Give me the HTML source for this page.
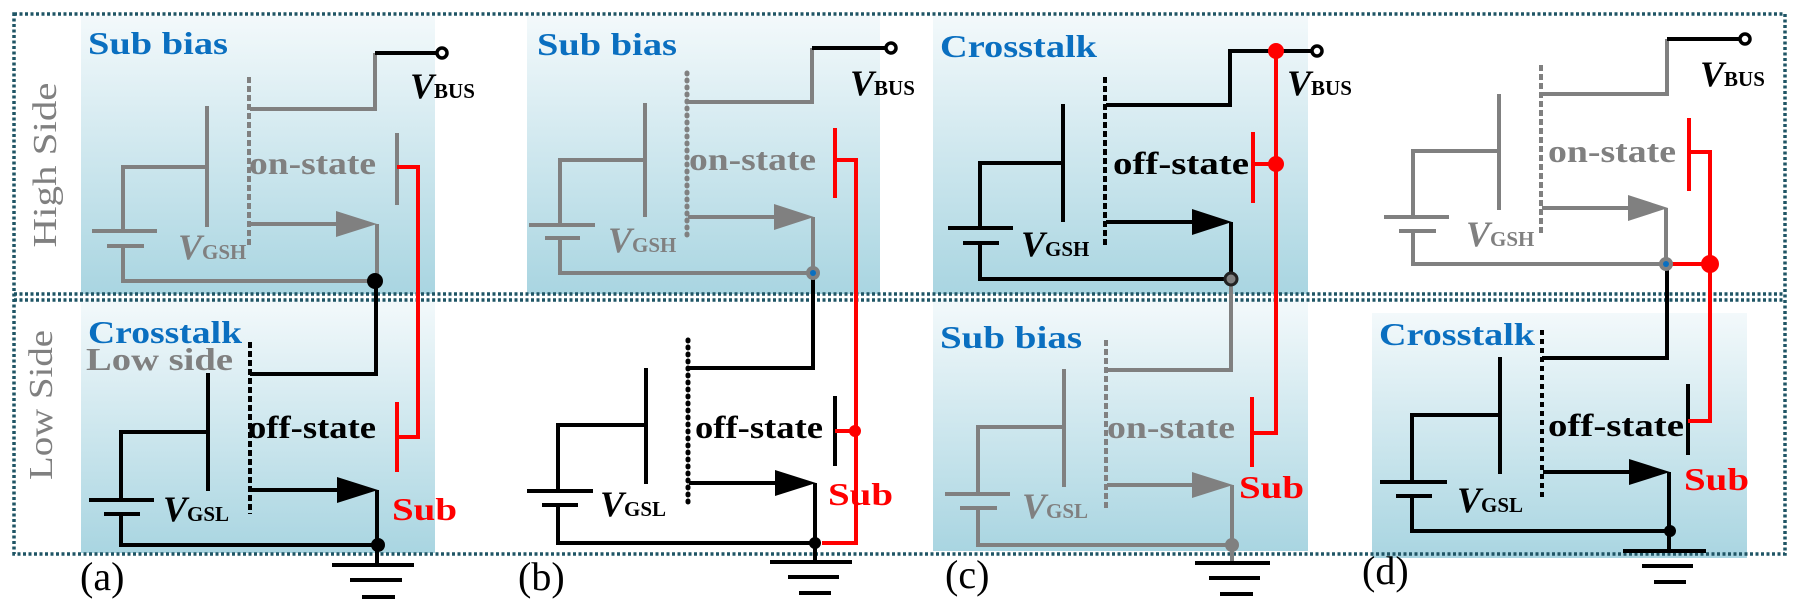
<!DOCTYPE html>
<html><head><meta charset="utf-8"><style>
html,body{margin:0;padding:0;background:#fff;}
svg{display:block;}
text{font-family:"Liberation Serif",serif;font-weight:bold;}
</style></head><body>
<svg width="1800" height="614" viewBox="0 0 1800 614" xmlns="http://www.w3.org/2000/svg">
<defs>
<linearGradient id="g" x1="0" y1="0" x2="0" y2="1">
<stop offset="0" stop-color="#f3f9fb"/><stop offset="1" stop-color="#a9d5e1"/>
</linearGradient>
</defs>
<rect x="81" y="16" width="354" height="278" fill="url(#g)"/>
<rect x="81" y="300" width="354" height="253" fill="url(#g)"/>
<rect x="527" y="16" width="353" height="278" fill="url(#g)"/>
<rect x="933" y="16" width="375" height="278" fill="url(#g)"/>
<rect x="933" y="300" width="375" height="251" fill="url(#g)"/>
<rect x="1372" y="313" width="375" height="245" fill="url(#g)"/>

<g fill="none" stroke="#1f5565" stroke-width="3.5" stroke-dasharray="3,2.5">
<rect x="14" y="14" width="1771" height="540"/>
<line x1="14" y1="294" x2="1785" y2="294"/>
<line x1="14" y1="300" x2="1785" y2="300"/>
</g>
<text transform="translate(56,165) rotate(-90)" text-anchor="middle" font-size="34" fill="#808080" style="font-weight:normal" textLength="165" lengthAdjust="spacingAndGlyphs">High Side</text>
<text transform="translate(52,405) rotate(-90)" text-anchor="middle" font-size="34" fill="#808080" style="font-weight:normal" textLength="150" lengthAdjust="spacingAndGlyphs">Low Side</text>

<!-- Panel A -->
<g fill="none" stroke-width="4">
<g stroke="#808080">
<path d="M250,109 H375 V53"/>
<line x1="249" y1="77" x2="249" y2="248" stroke-dasharray="6,3"/>
<line x1="207" y1="106" x2="207" y2="227"/>
<path d="M207,167 H123 V231"/>
<line x1="92" y1="231" x2="157" y2="231"/><line x1="107" y1="246" x2="144" y2="246"/>
<path d="M123,246 V281 H376"/>
<line x1="250" y1="224" x2="336" y2="224"/>
<path d="M377,224 V281"/>
<line x1="397" y1="133" x2="397" y2="205"/>
</g>
<polygon points="336,211 336,237 377,224" fill="#808080" stroke="none"/>
<path d="M375,53 H437" stroke="#000"/>
<circle cx="442" cy="53" r="5" fill="#fff" stroke="#000" stroke-width="3.5"/>
<path d="M397,167 H418 V437 H397" stroke="#f00"/>
<line x1="397" y1="402" x2="397" y2="472" stroke="#f00"/>
<g stroke="#000">
<path d="M376,281 V374 H250"/>
<line x1="250" y1="342" x2="250" y2="514" stroke-dasharray="6,3"/>
<line x1="208" y1="373" x2="208" y2="491"/>
<path d="M208,432 H121 V500"/>
<line x1="89" y1="500" x2="154" y2="500"/><line x1="104" y1="514" x2="140" y2="514"/>
<path d="M121,514 V545 H378"/>
<line x1="251" y1="490" x2="337" y2="490"/>
<path d="M377,490 V565"/>
<line x1="332" y1="565" x2="414" y2="565"/><line x1="350" y1="580" x2="402" y2="580"/><line x1="362" y1="597" x2="395" y2="597"/>
</g>
<polygon points="337,477 337,503 378,490" fill="#000" stroke="none"/>
</g>
<circle cx="375" cy="281" r="8" fill="#000"/>
<circle cx="378" cy="545" r="7" fill="#000"/>
<text x="88" y="54" font-size="32" fill="#0a6fc0" textLength="140" lengthAdjust="spacingAndGlyphs">Sub bias</text>
<text x="249" y="174" font-size="32" fill="#808080" textLength="127" lengthAdjust="spacingAndGlyphs">on-state</text>
<text x="178" y="259" fill="#808080"><tspan font-size="36" font-style="italic">V</tspan><tspan font-size="21">GSH</tspan></text>
<text x="410" y="98" fill="#000"><tspan font-size="36" font-style="italic">V</tspan><tspan font-size="21">BUS</tspan></text>
<text x="88" y="343" font-size="32" fill="#0a6fc0" textLength="154" lengthAdjust="spacingAndGlyphs">Crosstalk</text>
<text x="86" y="370" font-size="32" fill="#808080" textLength="147" lengthAdjust="spacingAndGlyphs">Low side</text>
<text x="248" y="438" font-size="32" fill="#000" textLength="128" lengthAdjust="spacingAndGlyphs">off-state</text>
<text x="163" y="521" fill="#000"><tspan font-size="36" font-style="italic">V</tspan><tspan font-size="21">GSL</tspan></text>
<text x="392" y="520" font-size="32" fill="#f00" textLength="65" lengthAdjust="spacingAndGlyphs">Sub</text>
<text x="80" y="590" font-size="40" fill="#000" style="font-weight:normal">(a)</text>

<!-- Panel B -->
<g fill="none" stroke-width="4">
<g stroke="#808080">
<path d="M688,102 H812 V48"/>
<line x1="687" y1="73" x2="687" y2="240" stroke-dasharray="1,6" stroke-linecap="round" stroke-width="5"/>
<line x1="645" y1="103" x2="645" y2="217"/>
<path d="M645,160 H560 V225"/>
<line x1="529" y1="225" x2="595" y2="225"/><line x1="545" y1="238" x2="580" y2="238"/>
<path d="M560,238 V273 H813"/>
<line x1="688" y1="217" x2="774" y2="217"/>
<path d="M813,217 V273"/>
</g>
<polygon points="774,204 774,230 814,217" fill="#808080" stroke="none"/>
<path d="M812,48 H886" stroke="#000"/>
<circle cx="891" cy="48" r="5" fill="#fff" stroke="#000" stroke-width="3.5"/>
<line x1="835" y1="128" x2="835" y2="198" stroke="#f00"/>
<g stroke="#000">
<path d="M813,273 V368 H688"/>
<line x1="688" y1="340" x2="688" y2="508" stroke-dasharray="1,6" stroke-linecap="round" stroke-width="5"/>
<line x1="646" y1="368" x2="646" y2="484"/>
<path d="M646,425 H558 V491"/>
<line x1="527" y1="491" x2="593" y2="491"/><line x1="542" y1="505" x2="578" y2="505"/>
<path d="M558,505 V543 H815"/>
<line x1="689" y1="483" x2="775" y2="483"/>
<path d="M815,483 V562"/>
<line x1="770" y1="562" x2="852" y2="562"/><line x1="788" y1="577" x2="839" y2="577"/><line x1="799" y1="593" x2="831" y2="593"/>
<line x1="835" y1="396" x2="835" y2="466"/>
</g>
<polygon points="775,470 775,496 816,483" fill="#000" stroke="none"/>
<path d="M835,160 H856 V543 H822" stroke="#f00"/>
<path d="M835,431 H856" stroke="#f00"/>
</g>
<circle cx="813" cy="273" r="7" fill="#808080"/><circle cx="813" cy="273" r="3" fill="#0a6fc0"/>
<circle cx="815" cy="543" r="6" fill="#000"/>
<circle cx="855" cy="431" r="6" fill="#f00"/>
<text x="537" y="55" font-size="32" fill="#0a6fc0" textLength="140" lengthAdjust="spacingAndGlyphs">Sub bias</text>
<text x="689" y="170" font-size="32" fill="#808080" textLength="127" lengthAdjust="spacingAndGlyphs">on-state</text>
<text x="608" y="252" fill="#808080"><tspan font-size="36" font-style="italic">V</tspan><tspan font-size="21">GSH</tspan></text>
<text x="850" y="95" fill="#000"><tspan font-size="36" font-style="italic">V</tspan><tspan font-size="21">BUS</tspan></text>
<text x="695" y="438" font-size="32" fill="#000" textLength="128" lengthAdjust="spacingAndGlyphs">off-state</text>
<text x="600" y="516" fill="#000"><tspan font-size="36" font-style="italic">V</tspan><tspan font-size="21">GSL</tspan></text>
<text x="828" y="505" font-size="32" fill="#f00" textLength="65" lengthAdjust="spacingAndGlyphs">Sub</text>
<text x="518" y="590" font-size="40" fill="#000" style="font-weight:normal">(b)</text>

<!-- Panel C -->
<g fill="none" stroke-width="4">
<g stroke="#000">
<path d="M1106,105 H1230 V51 H1312"/>
<line x1="1105" y1="77" x2="1105" y2="246" stroke-dasharray="6,3"/>
<line x1="1063" y1="104" x2="1063" y2="222"/>
<path d="M1063,163 H980 V228"/>
<line x1="948" y1="228" x2="1013" y2="228"/><line x1="963" y1="243" x2="999" y2="243"/>
<path d="M980,243 V279 H1230"/>
<line x1="1106" y1="222" x2="1192" y2="222"/>
<path d="M1231,222 V279"/>
</g>
<polygon points="1192,209 1192,235 1232,222" fill="#000" stroke="none"/>
<circle cx="1317" cy="51" r="5" fill="#fff" stroke="#000" stroke-width="3.5"/>
<g stroke="#808080">
<path d="M1231,283 V370 H1106"/>
<line x1="1106" y1="340" x2="1106" y2="509" stroke-dasharray="6,3"/>
<line x1="1064" y1="369" x2="1064" y2="487"/>
<path d="M1064,427 H978 V494"/>
<line x1="945" y1="494" x2="1010" y2="494"/><line x1="960" y1="508" x2="997" y2="508"/>
<path d="M978,508 V545 H1232"/>
<line x1="1107" y1="485" x2="1192" y2="485"/>
<path d="M1232,485 V563"/>
</g>
<polygon points="1192,472 1192,498 1233,485" fill="#808080" stroke="none"/>
<g stroke="#000">
<line x1="1195" y1="563" x2="1270" y2="563"/><line x1="1209" y1="578" x2="1260" y2="578"/><line x1="1220" y1="594" x2="1253" y2="594"/>
</g>
<g stroke="#f00">
<line x1="1253" y1="132" x2="1253" y2="203"/>
<path d="M1253,164 H1276"/>
<path d="M1276,51 V433 H1252"/>
<line x1="1252" y1="397" x2="1252" y2="467"/>
</g>
</g>
<circle cx="1231" cy="279" r="6" fill="#808080" stroke="#222" stroke-width="3"/>
<circle cx="1232" cy="545" r="7" fill="#808080"/>
<circle cx="1276" cy="51" r="8" fill="#f00"/>
<circle cx="1276" cy="164" r="8" fill="#f00"/>
<text x="940" y="57" font-size="32" fill="#0a6fc0" textLength="157" lengthAdjust="spacingAndGlyphs">Crosstalk</text>
<text x="1113" y="174" font-size="32" fill="#000" textLength="136" lengthAdjust="spacingAndGlyphs">off-state</text>
<text x="1021" y="256" fill="#000"><tspan font-size="36" font-style="italic">V</tspan><tspan font-size="21">GSH</tspan></text>
<text x="1287" y="95" fill="#000"><tspan font-size="36" font-style="italic">V</tspan><tspan font-size="21">BUS</tspan></text>
<text x="940" y="348" font-size="32" fill="#0a6fc0" textLength="142" lengthAdjust="spacingAndGlyphs">Sub bias</text>
<text x="1107" y="438" font-size="32" fill="#808080" textLength="128" lengthAdjust="spacingAndGlyphs">on-state</text>
<text x="1022" y="518" fill="#808080"><tspan font-size="36" font-style="italic">V</tspan><tspan font-size="21">GSL</tspan></text>
<text x="1239" y="498" font-size="32" fill="#f00" textLength="65" lengthAdjust="spacingAndGlyphs">Sub</text>
<text x="945" y="588" font-size="40" fill="#000" style="font-weight:normal">(c)</text>

<!-- Panel D -->
<g fill="none" stroke-width="4">
<g stroke="#808080">
<path d="M1542,94 H1667 V39"/>
<line x1="1541" y1="65" x2="1541" y2="236" stroke-dasharray="6,3"/>
<line x1="1499" y1="94" x2="1499" y2="210"/>
<path d="M1499,151 H1413 V217"/>
<line x1="1384" y1="217" x2="1449" y2="217"/><line x1="1399" y1="231" x2="1436" y2="231"/>
<path d="M1413,231 V264 H1666"/>
<line x1="1542" y1="208" x2="1628" y2="208"/>
<path d="M1666,208 V264"/>
</g>
<polygon points="1628,195 1628,221 1668,208" fill="#808080" stroke="none"/>
<path d="M1667,39 H1740" stroke="#000"/>
<circle cx="1745" cy="39" r="5" fill="#fff" stroke="#000" stroke-width="3.5"/>
<g stroke="#000">
<path d="M1667,268 V358 H1542"/>
<line x1="1542" y1="330" x2="1542" y2="497" stroke-dasharray="5,4"/>
<line x1="1500" y1="357" x2="1500" y2="474"/>
<path d="M1500,415 H1412 V482"/>
<line x1="1380" y1="482" x2="1447" y2="482"/><line x1="1396" y1="496" x2="1432" y2="496"/>
<path d="M1412,496 V531 H1670"/>
<line x1="1543" y1="472" x2="1629" y2="472"/>
<path d="M1669,472 V551"/>
<line x1="1623" y1="551" x2="1706" y2="551"/><line x1="1642" y1="566" x2="1693" y2="566"/><line x1="1654" y1="582" x2="1686" y2="582"/>
<line x1="1688" y1="384" x2="1688" y2="455"/>
</g>
<polygon points="1629,459 1629,485 1670,472" fill="#000" stroke="none"/>
<g stroke="#f00">
<line x1="1689" y1="118" x2="1689" y2="191"/>
<path d="M1689,152 H1710 V421 H1688"/>
<path d="M1666,264 H1710"/>
</g>
</g>
<circle cx="1666" cy="264" r="7" fill="#808080"/><circle cx="1666" cy="264" r="3" fill="#0a6fc0"/>
<circle cx="1710" cy="264" r="9" fill="#f00"/>
<circle cx="1670" cy="531" r="6" fill="#000"/>
<text x="1548" y="162" font-size="32" fill="#808080" textLength="128" lengthAdjust="spacingAndGlyphs">on-state</text>
<text x="1466" y="246" fill="#808080"><tspan font-size="36" font-style="italic">V</tspan><tspan font-size="21">GSH</tspan></text>
<text x="1700" y="86" fill="#000"><tspan font-size="36" font-style="italic">V</tspan><tspan font-size="21">BUS</tspan></text>
<text x="1379" y="345" font-size="32" fill="#0a6fc0" textLength="156" lengthAdjust="spacingAndGlyphs">Crosstalk</text>
<text x="1548" y="436" font-size="32" fill="#000" textLength="136" lengthAdjust="spacingAndGlyphs">off-state</text>
<text x="1457" y="512" fill="#000"><tspan font-size="36" font-style="italic">V</tspan><tspan font-size="21">GSL</tspan></text>
<text x="1684" y="490" font-size="32" fill="#f00" textLength="65" lengthAdjust="spacingAndGlyphs">Sub</text>
<text x="1362" y="584" font-size="40" fill="#000" style="font-weight:normal">(d)</text>
</svg>
</body></html>
